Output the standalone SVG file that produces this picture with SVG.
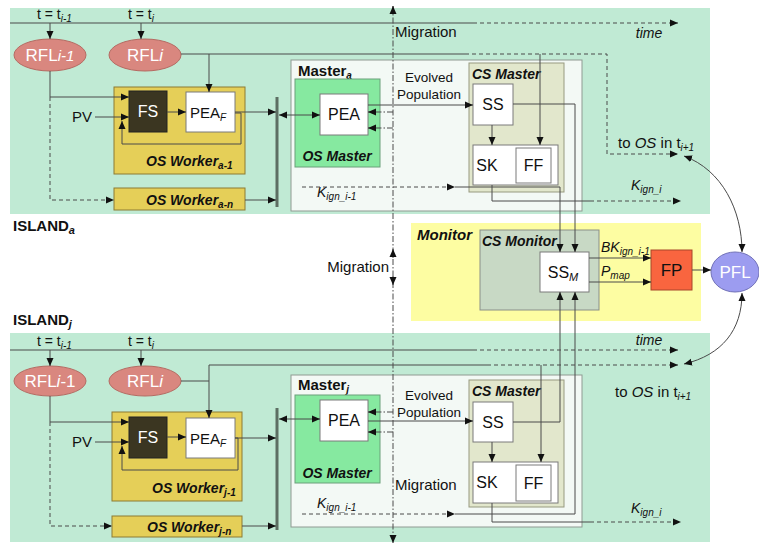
<svg xmlns="http://www.w3.org/2000/svg" width="759" height="546" viewBox="0 0 759 546">
<defs>
<marker id="a" markerUnits="userSpaceOnUse" markerWidth="9" markerHeight="8" refX="8" refY="4" orient="auto-start-reverse"><path d="M0,0.5 L8,4 L0,7.5 z" fill="#111"/></marker>
<style>
.t{font-family:"Liberation Sans",Arial,sans-serif;fill:#111}
.w{fill:#fff}
.b{font-weight:bold}
.bi{font-weight:bold;font-style:italic}
.i{font-style:italic}
.ln{stroke:#4a4a4a;stroke-width:1;fill:none}
.ds{stroke-dasharray:4,3}
.dd{stroke-dasharray:6,2,1.5,2}
.isl{fill:#c0ead4}
.wk{fill:#e5cf58;stroke:#8c7b33}
.fs{fill:#3b3621;stroke:#222}
.wb{fill:#fff;stroke:#7a7a7a}
.ms{fill:#f3f9f5;stroke:#8f9a92}
.om{fill:#86e9a0;stroke:#6aa07a}
.cm{fill:#e2e7cc;stroke:#979a80}
.bar{stroke:#5d6f63;stroke-width:3}
</style>
</defs>

<!-- island backgrounds -->
<g id="islandA-bg"><rect class="isl" x="10" y="8" width="700" height="206"/></g>
<g id="islandJ-bg"><rect class="isl" x="10" y="333" width="700" height="209"/></g>

<!-- ===== TOP ISLAND nodes ===== -->
<g id="t-ti1"><text class="t" x="37" y="19" font-size="14">t = t<tspan font-size="10" dy="3" class="i">i-1</tspan></text></g>
<g id="t-ti"><text class="t" x="128" y="19" font-size="14">t = t<tspan font-size="10" dy="3" class="i">i</tspan></text></g>
<g id="a-rfl1"><ellipse cx="50" cy="55" rx="36" ry="16" fill="#d9877f" stroke="#b56a62"/><text class="t w" x="50" y="61" font-size="17" text-anchor="middle">RFL<tspan class="i" font-size="15">i-1</tspan></text></g>
<g id="a-rfl"><ellipse cx="145" cy="55" rx="36" ry="16" fill="#d9877f" stroke="#b56a62"/><text class="t w" x="145" y="61" font-size="17" text-anchor="middle">RFL<tspan class="i">i</tspan></text></g>
<g id="a-pv"><text class="t" x="92" y="122" font-size="15" text-anchor="end">PV</text></g>
<g id="a-osw1"><rect class="wk" x="114" y="87" width="131" height="87"/><text class="t bi" x="146" y="166" font-size="14">OS Worker<tspan font-size="10" dy="3">a-1</tspan></text></g>
<g id="a-fs"><rect class="fs" x="129" y="91" width="38" height="41"/><text class="t w" x="148" y="117" font-size="16" text-anchor="middle">FS</text></g>
<g id="a-peaf"><rect class="wb" x="186" y="92" width="49" height="40"/><text class="t" x="208" y="118" font-size="15" text-anchor="middle">PEA<tspan class="i" font-size="10" dy="3">F</tspan></text></g>
<g id="a-oswn"><rect class="wk" x="114" y="188" width="131" height="22"/><text class="t bi" x="146" y="205" font-size="14">OS Worker<tspan font-size="10" dy="3">a-n</tspan></text></g>
<g id="a-bar"><line class="bar" x1="277" y1="97" x2="277" y2="207"/></g>
<g id="a-master"><rect class="ms" x="291" y="60" width="291" height="151"/><text class="t b" x="298" y="76" font-size="15">Master<tspan class="i" font-size="10" dy="3">a</tspan></text></g>
<g id="a-osmaster"><rect class="om" x="295" y="79" width="85" height="88"/><text class="t bi" x="337" y="161" font-size="14" text-anchor="middle">OS Master</text></g>
<g id="a-pea"><rect class="wb" x="320" y="94" width="48" height="41"/><text class="t" x="344" y="120" font-size="16" text-anchor="middle">PEA</text></g>
<g id="a-csmaster"><rect class="cm" x="469" y="63" width="95" height="129"/><text class="t bi" x="472" y="79" font-size="14">CS Master</text></g>
<g id="a-ss"><rect class="wb" x="473" y="84" width="40" height="41"/><text class="t" x="493" y="110" font-size="16" text-anchor="middle">SS</text></g>
<g id="a-sk"><rect class="wb" x="473" y="145" width="85" height="40"/><text class="t" x="487" y="171" font-size="16" text-anchor="middle">SK</text></g>
<g id="a-ff"><rect class="wb" x="516" y="148" width="35" height="35"/><text class="t" x="533.5" y="171" font-size="16" text-anchor="middle">FF</text></g>
<g id="a-labels">
<text class="t" x="395" y="37" font-size="15">Migration</text>
<text class="t i" x="649" y="38" font-size="14" text-anchor="middle">time</text>
<text class="t" x="429" y="82" font-size="13.5" text-anchor="middle">Evolved</text>
<text class="t" x="429" y="99" font-size="13.5" text-anchor="middle">Population</text>
<text class="t i" x="317" y="197" font-size="14">K<tspan font-size="10" dy="3">ign_i-1</tspan></text>
<text class="t i" x="631" y="190" font-size="14">K<tspan font-size="10" dy="3">ign_i</tspan></text>
<text class="t" x="618" y="148" font-size="15">to <tspan class="i">OS</tspan> in t<tspan class="i" font-size="10" dy="3">i+1</tspan></text>
<text class="t b" x="13" y="231" font-size="15">ISLAND<tspan class="i" font-size="11" dy="3">a</tspan></text>
</g>

<!-- ===== MONITOR ===== -->
<g id="monitor"><rect x="411" y="223" width="290" height="98" fill="#fdfda2"/><text class="t bi" x="417" y="240" font-size="15">Monitor</text></g>
<g id="csmonitor"><rect x="480" y="230" width="119" height="80" fill="#c8d9c5" stroke="#8a8f88"/><text class="t bi" x="482" y="246" font-size="14">CS Monitor</text></g>
<g id="ssm"><rect class="wb" x="540" y="252" width="49" height="40"/><text class="t" x="563" y="278" font-size="16" text-anchor="middle">SS<tspan class="i" font-size="11" dy="3">M</tspan></text></g>
<g id="fp"><rect x="651" y="250" width="41" height="40" fill="#f9653f" stroke="#a8462a"/><text class="t" x="671.5" y="276" font-size="17" text-anchor="middle">FP</text></g>
<g id="pfl"><ellipse cx="735" cy="272" rx="24" ry="20" fill="#9c9cf0" stroke="#7272b8"/><text class="t w" x="735" y="278" font-size="17" text-anchor="middle">PFL</text></g>
<g id="m-labels">
<text class="t i" x="601" y="252" font-size="14">BK<tspan font-size="10" dy="3">ign_i-1</tspan></text>
<text class="t i" x="601" y="276" font-size="14">P<tspan font-size="10" dy="3">map</tspan></text>
<text class="t" x="389" y="272" font-size="15" text-anchor="end">Migration</text>
<text class="t b" x="13" y="325" font-size="15">ISLAND<tspan class="i" font-size="11" dy="3">j</tspan></text>
</g>

<!-- ===== BOTTOM ISLAND nodes ===== -->
<g id="j-tti1"><text class="t" x="37" y="346" font-size="14">t = t<tspan font-size="10" dy="3" class="i">i-1</tspan></text></g>
<g id="j-tti"><text class="t" x="128" y="346" font-size="14">t = t<tspan font-size="10" dy="3" class="i">i</tspan></text></g>
<g id="j-rfl1"><ellipse cx="50" cy="381" rx="36" ry="15" fill="#d9877f" stroke="#b56a62"/><text class="t w" x="50" y="387" font-size="17" text-anchor="middle">RFL<tspan class="i">i</tspan>-1</text></g>
<g id="j-rfl"><ellipse cx="145" cy="381" rx="36" ry="15" fill="#d9877f" stroke="#b56a62"/><text class="t w" x="145" y="387" font-size="17" text-anchor="middle">RFL<tspan class="i">i</tspan></text></g>
<g id="j-pv"><text class="t" x="92" y="447" font-size="15" text-anchor="end">PV</text></g>
<g id="j-osw1"><rect class="wk" x="112" y="412" width="130" height="89"/><text class="t bi" x="152" y="493" font-size="14">OS Worker<tspan font-size="10" dy="3">j-1</tspan></text></g>
<g id="j-fs"><rect class="fs" x="129" y="417" width="38" height="41"/><text class="t w" x="148" y="443" font-size="16" text-anchor="middle">FS</text></g>
<g id="j-peaf"><rect class="wb" x="186" y="418" width="49" height="40"/><text class="t" x="208" y="444" font-size="15" text-anchor="middle">PEA<tspan class="i" font-size="10" dy="3">F</tspan></text></g>
<g id="j-oswn"><rect class="wk" x="112" y="516" width="130" height="21"/><text class="t bi" x="147" y="532" font-size="14">OS Worker<tspan font-size="10" dy="3">j-n</tspan></text></g>
<g id="j-bar"><line class="bar" x1="277" y1="408" x2="277" y2="530"/></g>
<g id="j-master"><rect class="ms" x="291" y="375" width="291" height="152"/><text class="t b" x="298" y="390" font-size="15">Master<tspan class="i" font-size="10" dy="3">j</tspan></text></g>
<g id="j-osmaster"><rect class="om" x="295" y="395" width="85" height="88"/><text class="t bi" x="337" y="478" font-size="14" text-anchor="middle">OS Master</text></g>
<g id="j-pea"><rect class="wb" x="320" y="400" width="48" height="41"/><text class="t" x="344" y="426" font-size="16" text-anchor="middle">PEA</text></g>
<g id="j-csmaster"><rect class="cm" x="469" y="380" width="95" height="127"/><text class="t bi" x="472" y="396" font-size="14">CS Master</text></g>
<g id="j-ss"><rect class="wb" x="473" y="402" width="40" height="40"/><text class="t" x="493" y="428" font-size="16" text-anchor="middle">SS</text></g>
<g id="j-sk"><rect class="wb" x="473" y="462" width="85" height="41"/><text class="t" x="487" y="488" font-size="16" text-anchor="middle">SK</text></g>
<g id="j-ff"><rect class="wb" x="516" y="465" width="35" height="36"/><text class="t" x="533.5" y="489" font-size="16" text-anchor="middle">FF</text></g>
<g id="j-labels">
<text class="t i" x="649" y="345" font-size="14" text-anchor="middle">time</text>
<text class="t" x="429" y="400" font-size="13.5" text-anchor="middle">Evolved</text>
<text class="t" x="429" y="417" font-size="13.5" text-anchor="middle">Population</text>
<text class="t" x="395" y="490" font-size="15">Migration</text>
<text class="t i" x="317" y="508" font-size="14">K<tspan font-size="10" dy="3">ign_i-1</tspan></text>
<text class="t i" x="631" y="513" font-size="14">K<tspan font-size="10" dy="3">ign_i</tspan></text>
<text class="t" x="615" y="397" font-size="15">to <tspan class="i">OS</tspan> in t<tspan class="i" font-size="10" dy="3">i+1</tspan></text>
</g>

<!-- ===== CONNECTORS ===== -->
<g id="connectors">
<!-- migration dash-dot axis -->
<line class="ln dd" x1="393" y1="6" x2="393" y2="543"/>
<line class="ln" x1="393" y1="14" x2="393" y2="6" marker-end="url(#a)"/>
<line class="ln" x1="393" y1="258" x2="393" y2="249" marker-end="url(#a)"/>
<line class="ln" x1="393" y1="276" x2="393" y2="285" marker-end="url(#a)"/>
<line class="ln" x1="393" y1="535" x2="393" y2="543" marker-end="url(#a)"/>

<!-- top island -->
<line class="ln" x1="10" y1="23" x2="473" y2="23"/>
<line class="ln ds" x1="473" y1="23" x2="678" y2="23" marker-end="url(#a)"/>
<line class="ln" x1="50" y1="23" x2="50" y2="39" marker-end="url(#a)"/>
<line class="ln" x1="141" y1="23" x2="141" y2="39" marker-end="url(#a)"/>
<polyline class="ln" points="50,71 50,97 129,97" marker-end="url(#a)"/>
<polyline class="ln ds" points="50,97 50,200 114,200" marker-end="url(#a)"/>
<line class="ln" x1="181" y1="54" x2="465" y2="54"/>
<polyline class="ln ds" points="465,54 607,54 607,154 678,154" marker-end="url(#a)"/>
<line class="ln" x1="209" y1="54" x2="209" y2="92" marker-end="url(#a)"/>
<line class="ln" x1="540" y1="54" x2="540" y2="145" marker-end="url(#a)"/>
<line class="ln" x1="95" y1="117" x2="129" y2="117" marker-end="url(#a)"/>
<line class="ln" x1="167" y1="112" x2="186" y2="112" marker-end="url(#a)"/>
<polyline class="ln" points="235,113 241,113 241,144 122,144 122,121" marker-end="url(#a)"/>
<line class="ln" x1="235" y1="112" x2="276" y2="112" marker-end="url(#a)"/>
<line class="ln" x1="245" y1="200" x2="276" y2="200" marker-end="url(#a)"/>
<line class="ln" x1="279" y1="115" x2="320" y2="115" marker-start="url(#a)" marker-end="url(#a)"/>
<line class="ln dd" x1="393" y1="112" x2="368" y2="112" marker-end="url(#a)"/>
<line class="ln dd" x1="393" y1="128" x2="368" y2="128" marker-end="url(#a)"/>
<line class="ln" x1="368" y1="105" x2="473" y2="105" marker-end="url(#a)"/>
<line class="ln" x1="492" y1="125" x2="492" y2="145" marker-end="url(#a)"/>
<polyline class="ln" points="513,104 575,104 575,252" marker-end="url(#a)"/>
<line class="ln ds" x1="302" y1="187" x2="455" y2="187" marker-end="url(#a)"/>
<polyline class="ln" points="455,187 560,187 560,252" marker-end="url(#a)"/>
<polyline class="ln" points="492,185 492,201 590,201"/>
<line class="ln ds" x1="590" y1="201" x2="681" y2="201" marker-end="url(#a)"/>

<!-- monitor -->
<line class="ln" x1="589" y1="258" x2="651" y2="258" marker-end="url(#a)"/>
<line class="ln" x1="589" y1="282" x2="651" y2="282" marker-end="url(#a)"/>
<line class="ln" x1="692" y1="270" x2="711" y2="270" marker-end="url(#a)" stroke="#888"/>
<path class="ln" d="M742,252 C742,210 722,170 684,156" marker-start="url(#a)" marker-end="url(#a)"/>
<path class="ln" d="M742,293 C742,330 722,355 684,364" marker-start="url(#a)" marker-end="url(#a)"/>

<!-- bottom island -->
<line class="ln" x1="10" y1="350" x2="473" y2="350"/>
<line class="ln ds" x1="473" y1="350" x2="678" y2="350" marker-end="url(#a)"/>
<line class="ln" x1="50" y1="350" x2="50" y2="366" marker-end="url(#a)"/>
<line class="ln" x1="141" y1="350" x2="141" y2="366" marker-end="url(#a)"/>
<polyline class="ln" points="50,396 50,422 129,422" marker-end="url(#a)"/>
<polyline class="ln ds" points="50,422 50,526 112,526" marker-end="url(#a)"/>
<line class="ln" x1="181" y1="381" x2="209" y2="381"/>
<line class="ln" x1="209" y1="365" x2="209" y2="418" marker-end="url(#a)"/>
<line class="ln" x1="209" y1="365" x2="487" y2="365"/>
<line class="ln ds" x1="487" y1="365" x2="678" y2="365" marker-end="url(#a)"/>
<line class="ln" x1="541" y1="365" x2="541" y2="462" marker-end="url(#a)"/>
<line class="ln" x1="95" y1="442" x2="129" y2="442" marker-end="url(#a)"/>
<line class="ln" x1="167" y1="437" x2="186" y2="437" marker-end="url(#a)"/>
<polyline class="ln" points="235,438 238,438 238,470 122,470 122,446" marker-end="url(#a)"/>
<line class="ln" x1="235" y1="438" x2="276" y2="438" marker-end="url(#a)"/>
<line class="ln" x1="242" y1="526" x2="276" y2="526" marker-end="url(#a)"/>
<line class="ln" x1="279" y1="419" x2="320" y2="419" marker-start="url(#a)" marker-end="url(#a)"/>
<line class="ln dd" x1="393" y1="412" x2="368" y2="412" marker-end="url(#a)"/>
<line class="ln dd" x1="393" y1="432" x2="368" y2="432" marker-end="url(#a)"/>
<line class="ln" x1="368" y1="421" x2="473" y2="421" marker-end="url(#a)"/>
<line class="ln" x1="492" y1="442" x2="492" y2="462" marker-end="url(#a)"/>
<polyline class="ln" points="513,422 560,422 560,292" marker-end="url(#a)"/>
<line class="ln ds" x1="302" y1="514" x2="455" y2="514" marker-end="url(#a)"/>
<polyline class="ln" points="455,514 575,514 575,292" marker-end="url(#a)"/>
<polyline class="ln" points="492,503 492,522 590,522"/>
<line class="ln ds" x1="590" y1="522" x2="681" y2="522" marker-end="url(#a)"/>
</g>
</svg>
